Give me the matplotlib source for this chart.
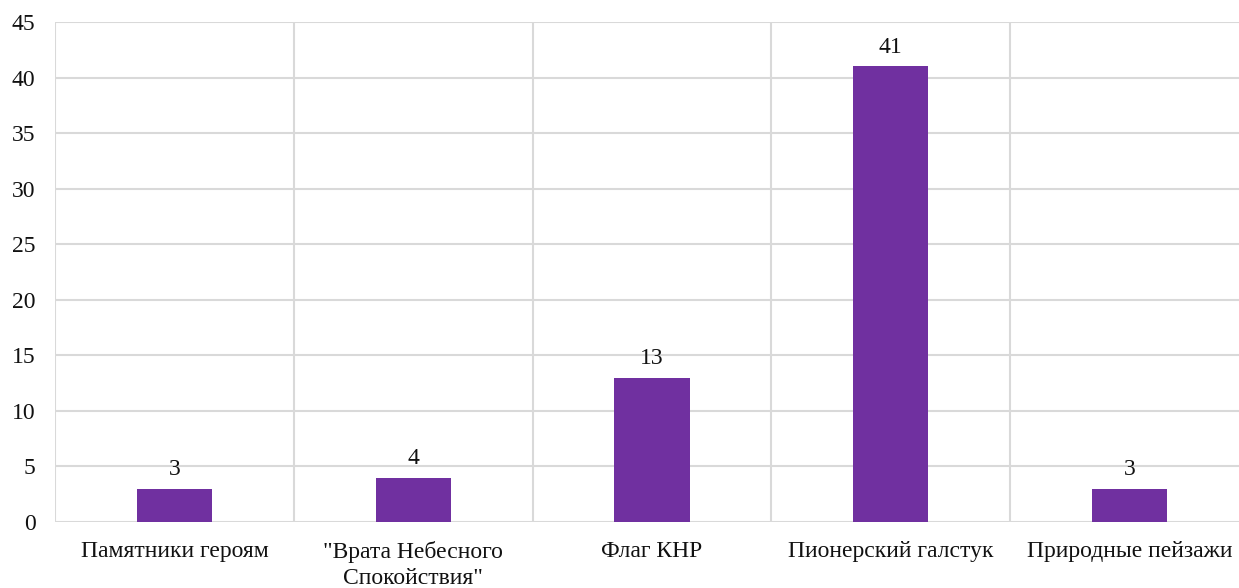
import matplotlib
matplotlib.use("Agg")
import matplotlib.pyplot as plt
from matplotlib import font_manager
from matplotlib.ticker import MultipleLocator, FixedLocator

categories = ["Памятники героям", "\"Врата Небесного\nСпокойствия\"", "Флаг КНР",
              "Пионерский галстук", "Природные пейзажи"]
values = [3, 4, 13, 41, 3]

names = sorted({f.name for f in font_manager.fontManager.ttflist})
serif = [n for n in names if 'Liberation Serif' in n] or [n for n in names if 'Serif' in n]
fam = serif[0] if serif else 'serif'
plt.rcParams['font.family'] = [fam, 'DejaVu Serif']

W, H = 1239, 588
fig = plt.figure(figsize=(W/100, H/100), dpi=100)
left, right = 55, 1249
top, bottom = 22, 522
ax = fig.add_axes([left/W, 1-bottom/H, (right-left)/W, (bottom-top)/H])

FS = 17
TC = '#111111'
x = list(range(len(categories)))
ax.bar(x, values, width=0.315, color='#7030A0', zorder=3)
for xi, v in zip(x, values):
    ax.annotate(str(v), (xi, v), xytext=(0, 6), textcoords='offset points',
                ha='center', va='bottom', fontsize=FS, color=TC)

ax.set_xlim(-0.5, len(categories)-0.5)
ax.set_ylim(0, 45)
ax.yaxis.set_major_locator(MultipleLocator(5))
ax.set_xticks(x)
ax.set_xticklabels(categories, fontsize=FS, color=TC, linespacing=1.3)
ax.xaxis.set_minor_locator(FixedLocator([i-0.5 for i in range(len(categories)+1)]))
ax.tick_params(axis='y', labelsize=FS, colors=TC, length=0, pad=14)
ax.tick_params(axis='x', which='both', length=0, pad=14)
ax.grid(axis='y', which='major', color='#d9d9d9', linewidth=1.5, zorder=0)
ax.grid(axis='x', which='minor', color='#d9d9d9', linewidth=1.5, zorder=0)
ax.grid(axis='x', which='major', visible=False)
for s in ax.spines.values():
    s.set_visible(False)

fig.savefig('out.png', dpi=100)
